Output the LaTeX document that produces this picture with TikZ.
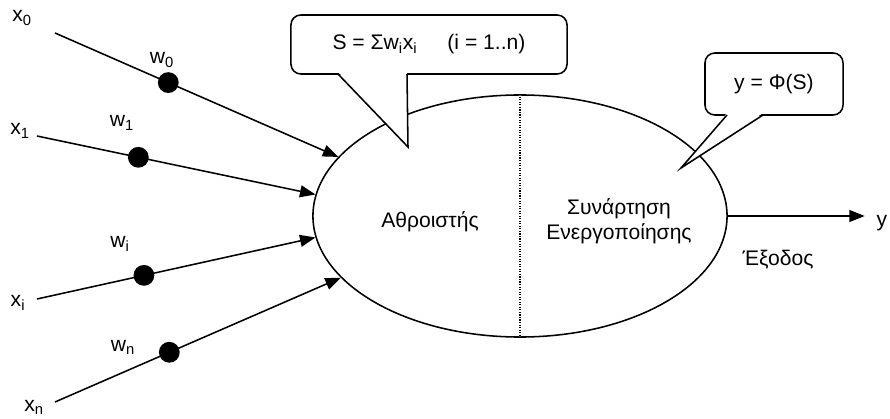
\documentclass[tikz,border=0pt]{standalone}
\usepackage{fontspec}
\setmainfont{Liberation Sans}
\usepackage{tikz}
\usetikzlibrary{positioning,arrows.meta,shapes.geometric}
\tikzset{neuronbox/.style={ellipse, draw, line width=1.1pt, minimum width=10.35cm,
  minimum height=6.05cm, inner sep=0pt}}
\tikzset{wdot/.style={circle, fill=black, minimum size=0.52cm, inner sep=0pt}}
\tikzset{callbox/.style={rectangle, rounded corners=7pt, draw, fill=white, line width=1.1pt}}
\tikzset{inarrow/.style={-{Triangle[length=11pt,width=8.5pt]}, line width=1.1pt}}

\begin{document}
\begin{tikzpicture}[x=0.025cm, y=-0.025cm, font=\fontsize{15}{18}\selectfont]
  \useasboundingbox (0,0) rectangle (890,419);
  \node[neuronbox] (neuron) at (520,216) {};
  \draw[densely dotted, line width=0.8pt] (neuron.north) -- (neuron.south);
  \node (sumtxt) at (430,222) {Αθροιστής};
  \node[align=center] (acttxt) at (619,221) {Συνάρτηση\\Ενεργοποίησης};

  \node (x0) at (22,18) {x\textsubscript{0}};
  \coordinate (s0) at (55,33);
  \draw[inarrow] (s0) -- node[wdot, pos=0.4] (d0) {} (neuron.162);
  \node (w0) at (162,60) {w\textsubscript{0}};

  \node (x1) at (20,131) {x\textsubscript{1}};
  \coordinate (s1) at (37,136);
  \draw[inarrow] (s1) -- node[wdot, pos=0.364] (d1) {} (neuron.174);
  \node (w1) at (122,123) {w\textsubscript{1}};

  \node (xi) at (18,303) {x\textsubscript{i}};
  \coordinate (si) at (37,299);
  \draw[inarrow] (si) -- node[wdot, pos=0.384] (di) {} (neuron.186);
  \node (wi) at (120,244) {w\textsubscript{i}};

  \node (xn) at (34,407) {x\textsubscript{n}};
  \coordinate (sn) at (55,402);
  \draw[inarrow] (sn) -- node[wdot, pos=0.4] (dn) {} (neuron.199);
  \node (wn) at (123,347) {w\textsubscript{n}};

  \node (yout) at (882,223) {y};
  \draw[inarrow, shorten >=5pt] (neuron.east) -- (neuron.east -| yout.west);
  \node (exodos) at (778,260) {Έξοδος};

  \node[callbox, minimum width=6.9cm, minimum height=1.475cm] (sumbox) at (429,44.5)
    {S = Σw\textsubscript{i}x\textsubscript{i}\hspace{0.75cm}(i = 1..n)\hspace{0.75cm}};
  \coordinate (sumtip) at (408,147);
  \fill[white] (338,72) -- (sumtip) -- (407,72) -- cycle;
  \draw[line width=1.1pt] (338,74) -- (sumtip) -- (407,74);

  \node[callbox, minimum width=3.45cm, minimum height=1.55cm] (actbox) at (774,84)
    {y = Φ(S)};
  \coordinate (acttip) at (681,168);
  \fill[white] (727,113) -- (acttip) -- (763,113) -- cycle;
  \draw[line width=1.1pt] (727,115) -- (acttip) -- (763,115);
\end{tikzpicture}
\end{document}
